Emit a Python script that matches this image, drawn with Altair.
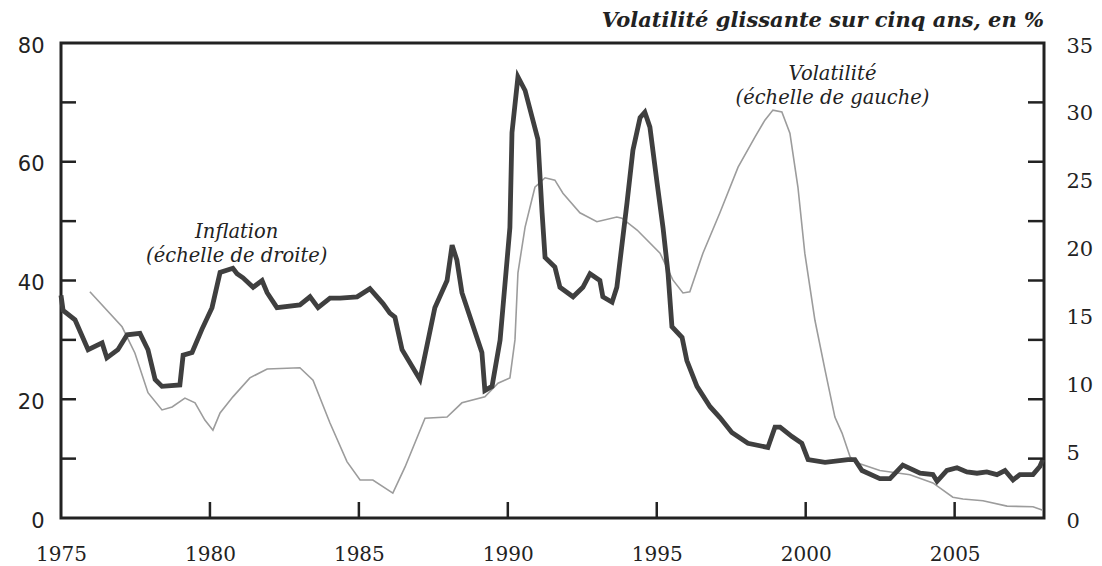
import altair as alt
import pandas as pd

# Inflation (right scale, %)
infl_year = [1975.00, 1975.07, 1975.47, 1975.91, 1976.38, 1976.54, 1976.91, 1977.22, 1977.65, 1977.92,
             1978.16, 1978.39, 1978.99, 1979.10, 1979.40, 1979.73, 1980.07, 1980.34, 1980.77, 1980.91,
             1981.11, 1981.45, 1981.75, 1981.92, 1982.25, 1983.02, 1983.36, 1983.63, 1984.03, 1984.37,
             1984.94, 1985.37, 1985.81, 1986.04, 1986.21, 1986.45, 1987.05, 1987.55, 1987.96, 1988.13,
             1988.29, 1988.46, 1989.13, 1989.23, 1989.47, 1989.74, 1990.07, 1990.14, 1990.34, 1990.58,
             1991.01, 1991.15, 1991.25, 1991.58, 1991.75, 1992.19, 1992.52, 1992.76, 1993.09, 1993.19,
             1993.50, 1993.66, 1994.00, 1994.20, 1994.44, 1994.60, 1994.77, 1995.01, 1995.21, 1995.38,
             1995.51, 1995.85, 1996.01, 1996.35, 1996.79, 1997.12, 1997.52, 1998.06, 1998.73, 1998.97,
             1999.14, 1999.54, 1999.87, 2000.08, 2000.65, 2001.42, 2001.65, 2001.89, 2002.49, 2002.83,
             2003.26, 2003.84, 2004.27, 2004.41, 2004.74, 2005.08, 2005.41, 2005.75, 2006.08, 2006.42,
             2006.69, 2006.96, 2007.19, 2007.63, 2007.86, 2007.96]
infl_val = [16.4, 15.3, 14.6, 12.4, 12.9, 11.8, 12.4, 13.5, 13.6, 12.4,
            10.2, 9.7, 9.8, 12.0, 12.2, 13.9, 15.5, 18.1, 18.4, 18.0,
            17.7, 17.0, 17.5, 16.6, 15.5, 15.7, 16.3, 15.5, 16.2, 16.2,
            16.3, 16.9, 15.8, 15.1, 14.8, 12.4, 10.2, 15.5, 17.5, 20.1,
            19.0, 16.6, 12.2, 9.4, 9.7, 13.1, 21.4, 28.4, 32.5, 31.5,
            27.9, 22.5, 19.2, 18.5, 17.0, 16.3, 17.0, 18.0, 17.5, 16.3,
            15.9, 17.0, 23.2, 27.1, 29.5, 29.9, 28.8, 24.7, 21.4, 18.0,
            14.1, 13.3, 11.6, 9.7, 8.2, 7.4, 6.3, 5.5, 5.2, 6.7,
            6.7, 6.0, 5.5, 4.3, 4.1, 4.3, 4.3, 3.5, 2.9, 2.9,
            3.9, 3.3, 3.2, 2.7, 3.5, 3.7, 3.4, 3.3, 3.4, 3.2,
            3.5, 2.8, 3.2, 3.2, 3.8, 4.3]

# Five-year rolling volatility (left scale)
vol_year = [1975.97, 1977.05, 1977.48, 1977.92, 1978.39, 1978.73, 1979.16, 1979.50, 1979.83, 1980.10,
            1980.34, 1980.77, 1981.34, 1981.92, 1983.02, 1983.46, 1984.03, 1984.60, 1985.04, 1985.47,
            1986.14, 1986.55, 1987.22, 1987.96, 1988.46, 1989.23, 1989.67, 1990.07, 1990.24, 1990.34,
            1990.58, 1990.91, 1991.25, 1991.58, 1991.85, 1992.42, 1992.99, 1993.66, 1993.83, 1994.34,
            1995.11, 1995.54, 1995.88, 1996.11, 1996.55, 1997.12, 1997.73, 1998.30, 1998.63, 1998.90,
            1999.20, 1999.47, 1999.74, 1999.97, 2000.31, 2000.65, 2000.98, 2001.22, 2001.49, 2001.72,
            2002.49, 2003.50, 2004.27, 2004.94, 2005.28, 2005.95, 2006.76, 2007.63, 2007.96]
vol_val = [38.1, 32.2, 27.8, 21.1, 18.2, 18.7, 20.2, 19.4, 16.5, 14.8,
           17.7, 20.4, 23.6, 25.1, 25.3, 23.2, 16.0, 9.5, 6.4, 6.4,
           4.2, 8.6, 16.8, 17.0, 19.4, 20.4, 22.7, 23.6, 30.0, 41.3,
           49.0, 55.7, 57.3, 56.9, 54.7, 51.4, 49.9, 50.7, 50.5, 48.5,
           44.6, 40.1, 37.9, 38.1, 44.6, 51.4, 59.1, 64.2, 67.0, 68.7,
           68.4, 64.8, 55.7, 44.6, 33.3, 24.9, 17.0, 14.3, 10.3, 9.3,
           8.0, 7.3, 5.9, 3.5, 3.2, 2.9, 2.0, 1.9, 1.3]

x_labels = [1975, 1980, 1985, 1990, 1995, 2000, 2005]
x_ticks = [1980, 1985, 1990, 1995, 2000, 2005]
left_labels = [0, 20, 40, 60, 80]
right_labels = [0, 5, 10, 15, 20, 25, 30, 35]
side_ticks = [10, 20, 30, 40, 50, 60, 70]

note_text = ["Inflation", "(échelle de droite)", "Volatilité", "(échelle de gauche)"]
note_year = [1980.9, 1980.9, 2000.9, 2000.9]
note_val = [48.1, 44.2, 74.7, 70.8]

title_text = "Volatilité glissante sur cinq ans, en %"

W, H = 983, 475
INK = "#222222"

infl_df = pd.DataFrame({"year": infl_year, "v": infl_val})
vol_df = pd.DataFrame({"year": vol_year, "v": vol_val})
notes_df = pd.DataFrame({"year": note_year, "v": note_val, "t": note_text})

xs = alt.Scale(domain=[1975, 2008], nice=False, zero=False)
yl = alt.Scale(domain=[0, 80], nice=False)
yr = alt.Scale(domain=[0, 35], nice=False)

x_axis = alt.Axis(
    values=x_labels, format="d", ticks=False, domain=False, grid=False,
    labelFont="DejaVu Serif", labelFontSize=20, labelPadding=26, labelFlush=False,
    labelColor=INK, title=None)
x_enc = alt.X("year:Q", scale=xs, axis=x_axis)

vol = alt.Chart(vol_df).mark_line(color="#9c9c9c", strokeWidth=1.6).encode(
    x=x_enc,
    y=alt.Y("v:Q", scale=yl, axis=alt.Axis(
        orient="left", values=left_labels, ticks=False, domain=False, grid=False,
        labelFont="DejaVu Sans", labelFontSize=21, labelPadding=17, labelOffset=3,
        labelFlush=False, labelColor=INK, title=None)),
)

infl = alt.Chart(infl_df).mark_line(color="#3f3f3f", strokeWidth=4.8, strokeJoin="miter").encode(
    x=x_enc,
    y=alt.Y("v:Q", scale=yr, axis=alt.Axis(
        orient="right", values=right_labels, ticks=False, domain=False, grid=False,
        labelFont="DejaVu Serif", labelFontSize=21, labelPadding=22, labelOffset=3,
        labelFlush=False, labelColor=INK, title=None)),
)

left_ticks = alt.Chart(pd.DataFrame({"v": side_ticks})).mark_rule(color=INK, strokeWidth=2.5).encode(
    y=alt.Y("v:Q", scale=yl, axis=None), x=alt.value(0), x2=alt.value(15))

right_ticks = alt.Chart(pd.DataFrame({"v": side_ticks})).mark_rule(color=INK, strokeWidth=2.5).encode(
    y=alt.Y("v:Q", scale=yl, axis=None), x=alt.value(W - 16), x2=alt.value(W))

bottom_ticks = alt.Chart(pd.DataFrame({"year": x_ticks})).mark_rule(color=INK, strokeWidth=2.5).encode(
    x=x_enc, y=alt.value(H - 16), y2=alt.value(H))

notes = alt.Chart(notes_df).mark_text(
    font="DejaVu Serif", fontStyle="italic", fontSize=19.5, color=INK, baseline="middle", align="center"
).encode(
    x=x_enc,
    y=alt.Y("v:Q", scale=yl, axis=None),
    text="t:N",
)

chart = alt.layer(vol, infl, left_ticks, right_ticks, bottom_ticks, notes).resolve_scale(
    y="independent"
).properties(
    width=W, height=H,
    autosize=alt.AutoSizeParams(type="none"),
    padding={"left": 53, "top": 35, "right": 50, "bottom": 50},
    title=alt.TitleParams(
        title_text, anchor="end", frame="group", font="DejaVu Serif", fontStyle="italic",
        fontSize=21, fontWeight="bold", color=INK, offset=4),
).configure_view(
    stroke=INK, strokeWidth=3
).configure_axis(grid=False)

chart.save("out.html", embed_options={"renderer": "svg", "actions": False})
